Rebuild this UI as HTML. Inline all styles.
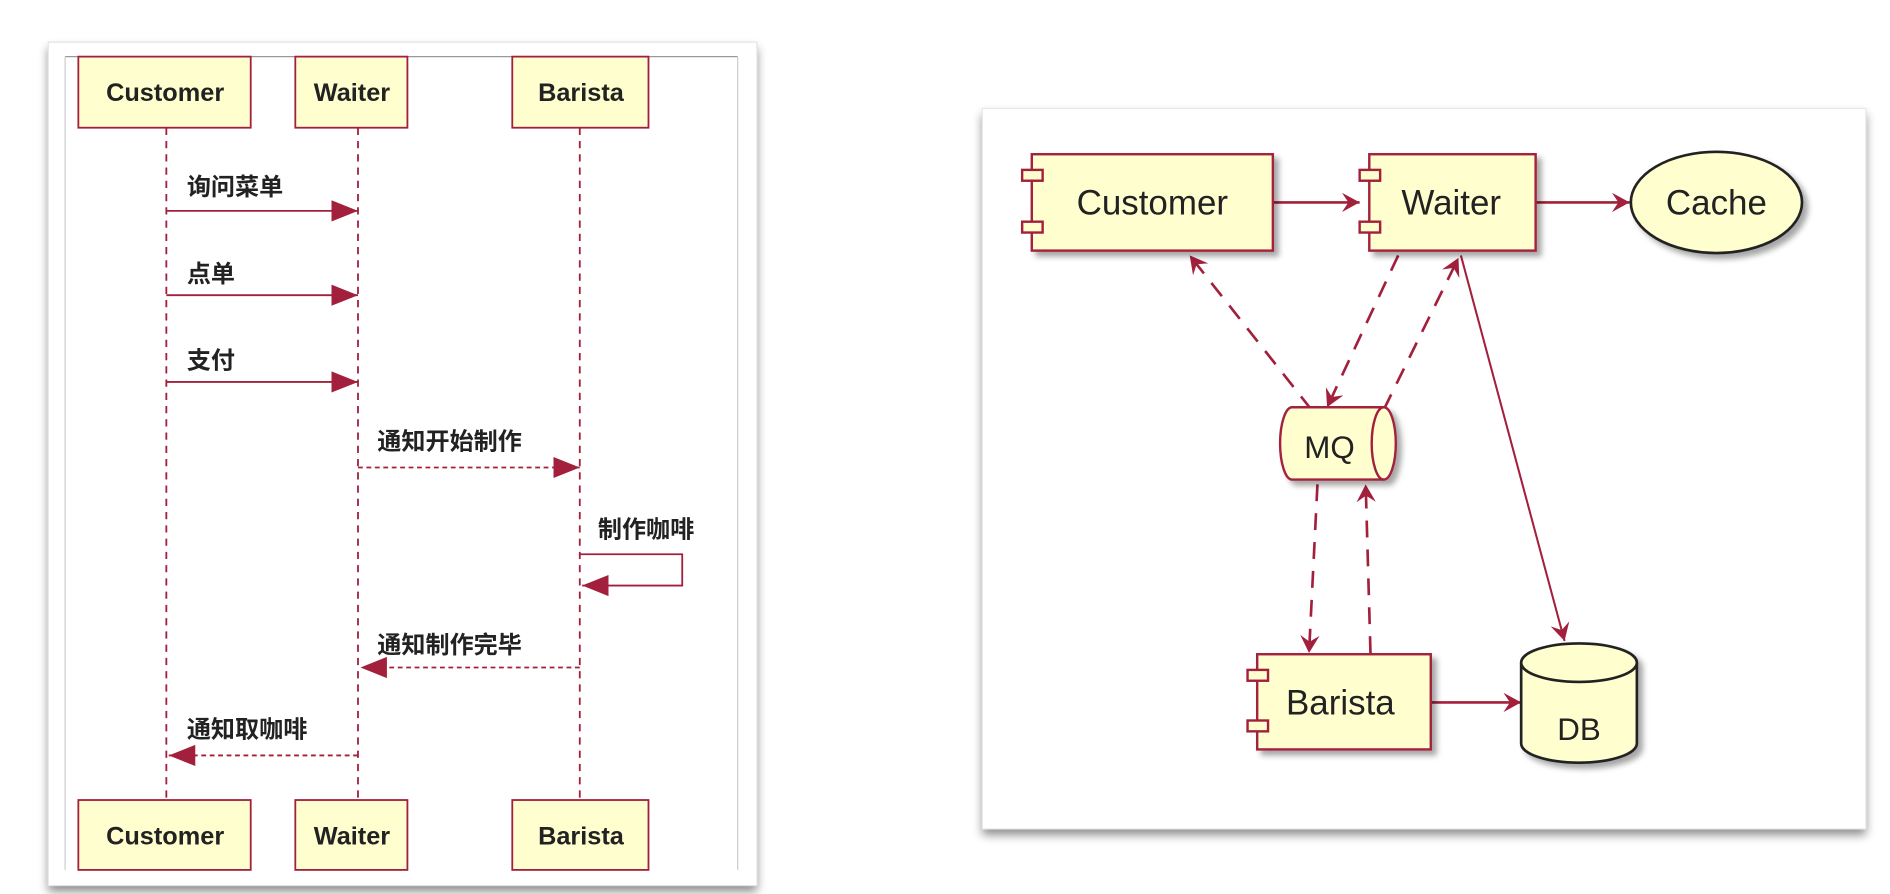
<!DOCTYPE html>
<html><head><meta charset="utf-8"><style>
html,body{margin:0;padding:0;background:#fff;width:1890px;height:894px;overflow:hidden}
svg{display:block}
text{font-family:"Liberation Sans","Noto Sans CJK SC",sans-serif;fill:#222}
</style></head><body>
<svg width="1890" height="894" viewBox="0 0 1568 742" preserveAspectRatio="none" xmlns="http://www.w3.org/2000/svg">
<defs>
<filter id="sh" x="-20%" y="-20%" width="150%" height="150%"><feDropShadow dx="4" dy="4" stdDeviation="2.5" flood-color="#000" flood-opacity="0.35"/></filter>
<filter id="cs" x="-10%" y="-10%" width="120%" height="120%"><feDropShadow dx="0" dy="5" stdDeviation="4" flood-color="#000" flood-opacity="0.45"/></filter>
<marker id="oa" viewBox="0 0 12 12" refX="11" refY="6" markerWidth="16" markerHeight="16" orient="auto" markerUnits="userSpaceOnUse"><path d="M0,0 L11,6 L0,12 L4,6 Z" fill="#a3203d"/></marker>
<marker id="sa" viewBox="0 0 20 16" refX="20" refY="8" markerWidth="22" markerHeight="18" orient="auto" markerUnits="userSpaceOnUse"><path d="M0,0 L20,8 L0,16 Z" fill="#a3203d"/></marker>
</defs>

<!-- LEFT CARD -->
<rect x="40" y="35" width="588" height="700" fill="#fff" filter="url(#cs)"/>
<rect x="40" y="35" width="588" height="700" fill="#fff" stroke="#e4e4e4"/>
<line x1="54" y1="47" x2="612" y2="47" stroke="#999"/>
<line x1="54" y1="47" x2="54" y2="722" stroke="#ccc"/>
<line x1="612" y1="47" x2="612" y2="722" stroke="#ccc"/>
<g stroke="#a3203d" stroke-width="1.5" stroke-dasharray="6,5">
<line x1="138" y1="106" x2="138" y2="664"/>
<line x1="297" y1="106" x2="297" y2="664"/>
<line x1="481" y1="106" x2="481" y2="664"/>
</g>
<g fill="#fefece" stroke="#a3203d" stroke-width="1.5">
<rect x="65" y="47" width="143" height="59"/><rect x="245" y="47" width="93" height="59"/><rect x="425" y="47" width="113" height="59"/>
<rect x="65" y="664" width="143" height="58"/><rect x="245" y="664" width="93" height="58"/><rect x="425" y="664" width="113" height="58"/>
</g>
<g font-size="21" font-weight="bold" text-anchor="middle">
<text x="137" y="84">Customer</text><text x="292" y="84">Waiter</text><text x="482" y="84">Barista</text>
<text x="137" y="701">Customer</text><text x="292" y="701">Waiter</text><text x="482" y="701">Barista</text>
</g>
<g stroke="#a3203d" stroke-width="1.5">
<line x1="138" y1="175" x2="297" y2="175" marker-end="url(#sa)"/>
<line x1="138" y1="245" x2="297" y2="245" marker-end="url(#sa)"/>
<line x1="138" y1="317" x2="297" y2="317" marker-end="url(#sa)"/>
<line x1="297" y1="388" x2="481" y2="388" stroke-dasharray="4,3" marker-end="url(#sa)"/>
<polyline points="481,460 566,460 566,486 483,486" fill="none" marker-end="url(#sa)"/>
<line x1="481" y1="554" x2="299" y2="554" stroke-dasharray="4,3" marker-end="url(#sa)"/>
<line x1="297" y1="627" x2="140" y2="627" stroke-dasharray="4,3" marker-end="url(#sa)"/>
</g>
<g font-size="20" font-weight="bold" fill="#333">
<text x="155" y="162">询问菜单</text>
<text x="155" y="234">点单</text>
<text x="155" y="306">支付</text>
<text x="313" y="373">通知开始制作</text>
<text x="496" y="446">制作咖啡</text>
<text x="313" y="542">通知制作完毕</text>
<text x="155" y="612">通知取咖啡</text>
</g>

<!-- RIGHT CARD -->
<rect x="815" y="90" width="733" height="598" fill="#fff" filter="url(#cs)"/>
<rect x="815" y="90" width="733" height="598" fill="#fff" stroke="#e8e8e8"/>

<g stroke="#a3203d" stroke-width="2.2" fill="none">
<line x1="1056" y1="168" x2="1128" y2="168" marker-end="url(#oa)"/>
<line x1="1274" y1="168" x2="1352" y2="168" marker-end="url(#oa)"/>
<line x1="1088" y1="340" x2="987" y2="212" stroke-dasharray="14,10" marker-end="url(#oa)"/>
<line x1="1160" y1="212" x2="1101" y2="338" stroke-dasharray="14,10" marker-end="url(#oa)"/>
<line x1="1148" y1="340" x2="1210" y2="214" stroke-dasharray="14,10" marker-end="url(#oa)"/>
<line x1="1212" y1="212" x2="1298" y2="532" stroke-width="1.7" marker-end="url(#oa)"/>
<line x1="1093" y1="402" x2="1086" y2="542" stroke-dasharray="14,10" marker-end="url(#oa)"/>
<line x1="1137" y1="542" x2="1133" y2="402" stroke-dasharray="14,10" marker-end="url(#oa)"/>
<line x1="1187" y1="583" x2="1262" y2="583" marker-end="url(#oa)"/>
</g>

<g fill="#fefece" stroke="#a3203d" stroke-width="2">
<g filter="url(#sh)">
<rect x="856" y="128" width="200" height="80"/>
<rect x="1136" y="128" width="138" height="80"/>
<rect x="1043" y="543" width="144" height="79"/>
<path d="M1072,338 H1148 A10,30 0 0 1 1148,398 H1072 A10,30 0 0 1 1072,338 Z"/>
</g>
<path d="M1148,338 A10,30 0 0 0 1148,398" fill="none"/>
<rect x="848" y="141" width="17" height="9"/><rect x="848" y="184" width="17" height="9"/>
<rect x="1128" y="141" width="17" height="9"/><rect x="1128" y="184" width="17" height="9"/>
<rect x="1035" y="556" width="17" height="9"/><rect x="1035" y="598" width="17" height="9"/>
</g>
<g fill="#fefece" stroke="#222" stroke-width="2.2">
<ellipse cx="1424" cy="168" rx="71" ry="42" filter="url(#sh)"/>
<path d="M1262,550 A48,16 0 0 1 1358,550 V617 A48,16 0 0 1 1262,617 Z" filter="url(#sh)"/>
<path d="M1262,550 A48,16 0 0 0 1358,550" fill="none"/>
</g>
<g font-size="29" text-anchor="middle">
<text x="956" y="178">Customer</text>
<text x="1204" y="178">Waiter</text>
<text x="1424" y="178">Cache</text>
<text x="1103" y="380" font-size="26">MQ</text>
<text x="1112" y="593">Barista</text>
<text x="1310" y="614" font-size="26">DB</text>
</g>
</svg>
</body></html>
